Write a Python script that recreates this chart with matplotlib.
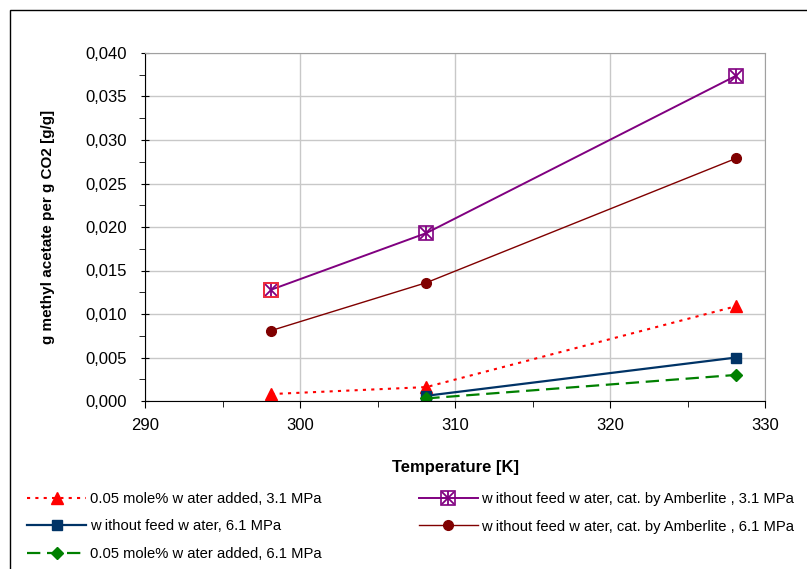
import numpy as np
import matplotlib
matplotlib.use("Agg")
import matplotlib.pyplot as plt
import matplotlib.patches as mpatches
from matplotlib.ticker import MultipleLocator, FuncFormatter

plt.rcParams['font.family'] = ['Liberation Sans', 'DejaVu Sans']

# data
temp_all = [298.15, 308.15, 328.15]
temp_hi = [308.15, 328.15]
water_31 = [0.0008, 0.0016, 0.0109]
nofeed_61 = [0.0006, 0.0050]
water_61 = [0.0003, 0.0030]
amb_31 = [0.0128, 0.0193, 0.0374]
amb_61 = [0.0081, 0.0136, 0.0279]

labels = ['0.05 mole% w ater added, 3.1 MPa',
          'w ithout feed w ater, 6.1 MPa',
          '0.05 mole% w ater added, 6.1 MPa',
          'w ithout feed w ater, cat. by Amberlite , 3.1 MPa',
          'w ithout feed w ater, cat. by Amberlite , 6.1 MPa']

W, H = 807, 569
fig = plt.figure(figsize=(W / 100, H / 100), dpi=100)
ax = fig.add_axes([145 / W, 1 - 401 / H, (765 - 145) / W, (401 - 53) / H])

# border around chart area
fig.patches.append(mpatches.Rectangle((10 / W, -0.05), 1.2, 1 - 10 / H + 0.05,
                                      transform=fig.transFigure, fill=False,
                                      edgecolor='black', linewidth=1.0))

purple = '#800080'
l1, = ax.plot(temp_all, water_31, color='#ff0000', linestyle=(0, (1.5, 2.5)), linewidth=1.5,
              marker='^', markersize=8, markerfacecolor='#ff0000', markeredgecolor='#ff0000')
l2, = ax.plot(temp_hi, nofeed_61, color='#003366', linestyle='-', linewidth=1.6,
              marker='s', markersize=6.5, markerfacecolor='#003366', markeredgecolor='#003366')
l3, = ax.plot(temp_hi, water_61, color='#008000', linestyle=(0, (6, 3)), linewidth=1.6,
              marker='D', markersize=6, markerfacecolor='#008000', markeredgecolor='#008000')
l4, = ax.plot(temp_all, amb_31, color=purple, linestyle='-', linewidth=1.4,
              marker='s', markersize=10, markerfacecolor='none', markeredgecolor=purple,
              markeredgewidth=1.2)
ax.plot(temp_all, amb_31, linestyle='none', marker='x', markersize=8,
        markeredgecolor=purple, markeredgewidth=1.3)
ax.plot(temp_all, amb_31, linestyle='none', marker='|', markersize=10,
        markeredgecolor=purple, markeredgewidth=1.3)
# first marker drawn with a red frame in the original
ax.plot(temp_all[:1], amb_31[:1], linestyle='none', marker='s', markersize=10,
        markerfacecolor='none', markeredgecolor='#ff3030', markeredgewidth=1.2)
l4x, = ax.plot([], [], linestyle='none', marker='x', markersize=8,
               markeredgecolor=purple, markeredgewidth=1.3)
l4p, = ax.plot([], [], linestyle='none', marker='|', markersize=10,
               markeredgecolor=purple, markeredgewidth=1.3)
l5, = ax.plot(temp_all, amb_61, color='#800000', linestyle='-', linewidth=1.0,
              marker='o', markersize=7, markerfacecolor='#800000', markeredgecolor='#800000')

ax.set_xlim(290, 330)
ax.set_ylim(0, 0.040)
ax.xaxis.set_major_locator(MultipleLocator(10))
ax.xaxis.set_minor_locator(MultipleLocator(5))
ax.yaxis.set_major_locator(MultipleLocator(0.005))
ax.yaxis.set_minor_locator(MultipleLocator(0.0025))
ax.yaxis.set_major_formatter(FuncFormatter(lambda v, p: f'{v:.3f}'.replace('.', ',')))
ax.grid(True, which='major', color='#c8c8c8', linewidth=1.0)
ax.set_axisbelow(True)
for s in ['top', 'right']:
    ax.spines[s].set_color('#a0a0a0')
ax.tick_params(axis='both', which='major', labelsize=12, length=5, direction='out')
ax.tick_params(axis='y', which='major', direction='inout', length=6, pad=10)
ax.tick_params(axis='x', which='major', pad=7)
ax.tick_params(axis='both', which='minor', length=4, direction='out')

ax.set_xlabel('Temperature [K]', fontsize=12, fontweight='bold', labelpad=20)
ax.set_ylabel('g methyl acetate per g CO2 [g/g]', fontsize=11, fontweight='bold', labelpad=22)

fig.legend([l1, l2, l3, (l4, l4x, l4p), l5], labels, ncol=2, loc='upper left',
           bbox_to_anchor=(14 / W, 1 - 479 / H), frameon=False, fontsize=10.6,
           handlelength=4.0, columnspacing=6.6, labelspacing=0.9, handletextpad=0.25)

fig.savefig('out.png', dpi=100)
